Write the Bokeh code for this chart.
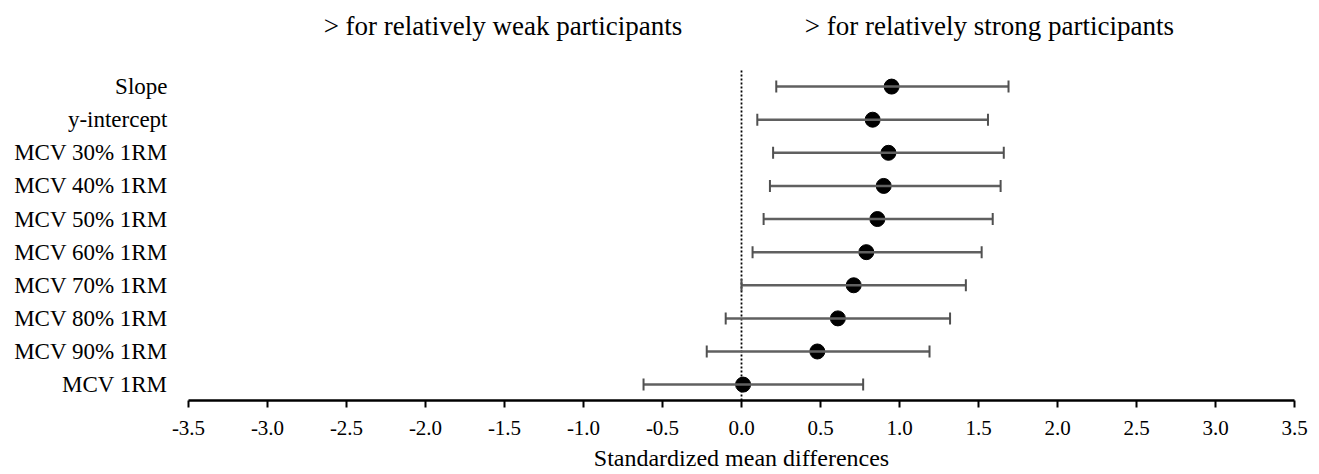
from bokeh.plotting import figure
from bokeh.models import (ColumnDataSource, Range1d, Whisker, TeeHead, FixedTicker,
                          PrintfTickFormatter)
from bokeh.core.properties import value
from bokeh.embed import file_html
from bokeh.resources import INLINE

# ---- data ----
categories = ["Slope", "y-intercept", "MCV 30% 1RM", "MCV 40% 1RM", "MCV 50% 1RM",
              "MCV 60% 1RM", "MCV 70% 1RM", "MCV 80% 1RM", "MCV 90% 1RM", "MCV 1RM"]
smd = [0.95, 0.83, 0.93, 0.90, 0.86, 0.79, 0.71, 0.61, 0.48, 0.01]
ci_lower = [0.22, 0.10, 0.20, 0.18, 0.14, 0.07, 0.00, -0.10, -0.22, -0.62]
ci_upper = [1.69, 1.56, 1.66, 1.64, 1.59, 1.52, 1.42, 1.32, 1.19, 0.77]
x_ticks = [-3.5, -3.0, -2.5, -2.0, -1.5, -1.0, -0.5, 0.0, 0.5, 1.0, 1.5, 2.0, 2.5, 3.0, 3.5]
headers = ["> for relatively weak participants", "> for relatively  strong participants"]
x_title = "Standardized mean differences"

n = len(categories)
rows = [n - 1 - i for i in range(n)]

FONT = "Liberation Serif"

src = ColumnDataSource(dict(y=rows, smd=smd, lower=ci_lower, upper=ci_upper, cat=categories))

p = figure(width=1319, height=474, output_backend="svg", toolbar_location=None,
           x_range=Range1d(-3.5, 3.5), y_range=Range1d(-0.48, 11.6),
           min_border_left=188, min_border_right=25, min_border_top=0, min_border_bottom=74)
p.outline_line_color = None
p.grid.visible = False
p.background_fill_color = "white"
p.border_fill_color = "white"

# zero reference line (dotted)
p.segment(x0=[0], y0=[-0.48], x1=[0], y1=[n - 0.5], line_color="black",
          line_width=1.8, line_dash="2 2")

# confidence intervals
wk = Whisker(source=src, base="y", lower="lower", upper="upper", dimension="width",
             line_color="#606060", line_width=2.5,
             lower_head=TeeHead(size=12, line_color="#505050", line_width=2),
             upper_head=TeeHead(size=12, line_color="#505050", line_width=2))
wk.level = "glyph"
p.add_layout(wk)

# point estimates
p.scatter(x="smd", y="y", source=src, size=15, fill_color="black", line_color="black")

# headers
p.text(x=[-1.51, 1.59], y=[10.84, 10.84], text=headers, text_font=value(FONT),
       text_font_size="27px", text_align="center", text_baseline="middle",
       text_color="black")

# x axis
xa = p.xaxis[0]
xa.ticker = FixedTicker(ticks=x_ticks)
xa.formatter = PrintfTickFormatter(format="%.1f")
xa.axis_line_color = "black"
xa.axis_line_width = 2.5
xa.major_tick_line_color = "black"
xa.major_tick_line_width = 2
xa.major_tick_in = 0
xa.major_tick_out = 7
xa.minor_tick_line_color = None
xa.major_label_text_font = FONT
xa.major_label_text_font_size = "21px"
xa.major_label_text_color = "black"
xa.major_label_standoff = 13
xa.axis_label = x_title
xa.axis_label_text_font = FONT
xa.axis_label_text_font_size = "24px"
xa.axis_label_text_font_style = "normal"
xa.axis_label_text_color = "black"
xa.axis_label_standoff = 7

# y axis (category labels)
ya = p.yaxis[0]
ya.ticker = FixedTicker(ticks=rows)
ya.major_label_overrides = {r: c for r, c in zip(rows, categories)}
ya.axis_line_color = None
ya.major_tick_line_color = None
ya.major_tick_out = 0
ya.major_tick_in = 0
ya.minor_tick_line_color = None
ya.major_label_text_font = FONT
ya.major_label_text_font_size = "23px"
ya.major_label_text_color = "black"
ya.major_label_standoff = 21

open("out.html", "w").write(file_html(p, INLINE))
